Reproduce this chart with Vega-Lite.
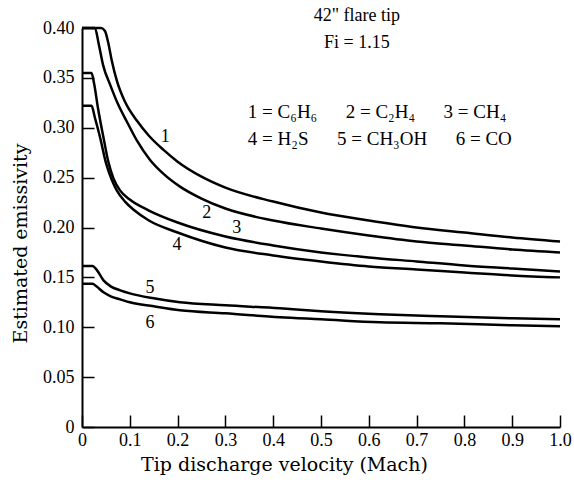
{
  "$schema": "https://vega.github.io/schema/vega-lite/v6.json",
  "width": 478,
  "height": 399,
  "autosize": {"type": "none"},
  "padding": {"left": 82, "top": 28, "right": 14, "bottom": 61},
  "background": "white",
  "config": {
    "view": {"stroke": null},
    "font": "Liberation Serif",
    "axis": {"grid": false, "domainColor": "black", "domainWidth": 2, "tickColor": "black", "tickWidth": 1.5, "labelColor": "black", "titleColor": "black", "labelFont": "Liberation Serif", "titleFont": "DejaVu Serif", "labelFontSize": 18, "titleFontSize": 19, "titleFontWeight": "normal"}
  },
  "datasets": {
    "curves": [
      {"curve": "1", "x": 0, "y": 0.400}, {"curve": "1", "x": 0.040, "y": 0.400}, {"curve": "1", "x": 0.048, "y": 0.397}, {"curve": "1", "x": 0.055, "y": 0.385}, {"curve": "1", "x": 0.062, "y": 0.368}, {"curve": "1", "x": 0.073, "y": 0.347}, {"curve": "1", "x": 0.090, "y": 0.326}, {"curve": "1", "x": 0.115, "y": 0.307}, {"curve": "1", "x": 0.140, "y": 0.292}, {"curve": "1", "x": 0.170, "y": 0.278}, {"curve": "1", "x": 0.20, "y": 0.266}, {"curve": "1", "x": 0.25, "y": 0.251}, {"curve": "1", "x": 0.30, "y": 0.240}, {"curve": "1", "x": 0.40, "y": 0.226}, {"curve": "1", "x": 0.50, "y": 0.215}, {"curve": "1", "x": 0.60, "y": 0.207}, {"curve": "1", "x": 0.70, "y": 0.200}, {"curve": "1", "x": 0.80, "y": 0.195}, {"curve": "1", "x": 0.90, "y": 0.190}, {"curve": "1", "x": 1.0, "y": 0.186},
      {"curve": "2", "x": 0, "y": 0.400}, {"curve": "2", "x": 0.027, "y": 0.400}, {"curve": "2", "x": 0.035, "y": 0.384}, {"curve": "2", "x": 0.044, "y": 0.363}, {"curve": "2", "x": 0.059, "y": 0.343}, {"curve": "2", "x": 0.075, "y": 0.324}, {"curve": "2", "x": 0.094, "y": 0.306}, {"curve": "2", "x": 0.115, "y": 0.287}, {"curve": "2", "x": 0.142, "y": 0.268}, {"curve": "2", "x": 0.170, "y": 0.254}, {"curve": "2", "x": 0.205, "y": 0.241}, {"curve": "2", "x": 0.25, "y": 0.229}, {"curve": "2", "x": 0.30, "y": 0.219}, {"curve": "2", "x": 0.40, "y": 0.207}, {"curve": "2", "x": 0.50, "y": 0.199}, {"curve": "2", "x": 0.60, "y": 0.192}, {"curve": "2", "x": 0.70, "y": 0.186}, {"curve": "2", "x": 0.80, "y": 0.182}, {"curve": "2", "x": 0.90, "y": 0.178}, {"curve": "2", "x": 1.0, "y": 0.175},
      {"curve": "3", "x": 0, "y": 0.355}, {"curve": "3", "x": 0.020, "y": 0.355}, {"curve": "3", "x": 0.025, "y": 0.345}, {"curve": "3", "x": 0.034, "y": 0.318}, {"curve": "3", "x": 0.045, "y": 0.290}, {"curve": "3", "x": 0.055, "y": 0.266}, {"curve": "3", "x": 0.066, "y": 0.249}, {"curve": "3", "x": 0.080, "y": 0.237}, {"curve": "3", "x": 0.10, "y": 0.228}, {"curve": "3", "x": 0.14, "y": 0.217}, {"curve": "3", "x": 0.20, "y": 0.205}, {"curve": "3", "x": 0.30, "y": 0.191}, {"curve": "3", "x": 0.40, "y": 0.182}, {"curve": "3", "x": 0.50, "y": 0.175}, {"curve": "3", "x": 0.60, "y": 0.170}, {"curve": "3", "x": 0.70, "y": 0.166}, {"curve": "3", "x": 0.80, "y": 0.162}, {"curve": "3", "x": 0.90, "y": 0.159}, {"curve": "3", "x": 1.0, "y": 0.156},
      {"curve": "4", "x": 0, "y": 0.322}, {"curve": "4", "x": 0.020, "y": 0.322}, {"curve": "4", "x": 0.027, "y": 0.310}, {"curve": "4", "x": 0.038, "y": 0.290}, {"curve": "4", "x": 0.050, "y": 0.265}, {"curve": "4", "x": 0.062, "y": 0.248}, {"curve": "4", "x": 0.073, "y": 0.237}, {"curve": "4", "x": 0.090, "y": 0.226}, {"curve": "4", "x": 0.11, "y": 0.217}, {"curve": "4", "x": 0.14, "y": 0.207}, {"curve": "4", "x": 0.20, "y": 0.195}, {"curve": "4", "x": 0.30, "y": 0.180}, {"curve": "4", "x": 0.40, "y": 0.172}, {"curve": "4", "x": 0.50, "y": 0.166}, {"curve": "4", "x": 0.60, "y": 0.161}, {"curve": "4", "x": 0.70, "y": 0.158}, {"curve": "4", "x": 0.80, "y": 0.155}, {"curve": "4", "x": 0.90, "y": 0.152}, {"curve": "4", "x": 1.0, "y": 0.150},
      {"curve": "5", "x": 0, "y": 0.1615}, {"curve": "5", "x": 0.022, "y": 0.1615}, {"curve": "5", "x": 0.030, "y": 0.158}, {"curve": "5", "x": 0.045, "y": 0.147}, {"curve": "5", "x": 0.060, "y": 0.141}, {"curve": "5", "x": 0.080, "y": 0.137}, {"curve": "5", "x": 0.10, "y": 0.134}, {"curve": "5", "x": 0.15, "y": 0.129}, {"curve": "5", "x": 0.205, "y": 0.125}, {"curve": "5", "x": 0.30, "y": 0.122}, {"curve": "5", "x": 0.414, "y": 0.119}, {"curve": "5", "x": 0.50, "y": 0.116}, {"curve": "5", "x": 0.623, "y": 0.113}, {"curve": "5", "x": 0.75, "y": 0.111}, {"curve": "5", "x": 0.90, "y": 0.109}, {"curve": "5", "x": 1.0, "y": 0.108},
      {"curve": "6", "x": 0, "y": 0.1435}, {"curve": "6", "x": 0.022, "y": 0.1435}, {"curve": "6", "x": 0.030, "y": 0.141}, {"curve": "6", "x": 0.045, "y": 0.135}, {"curve": "6", "x": 0.060, "y": 0.131}, {"curve": "6", "x": 0.080, "y": 0.128}, {"curve": "6", "x": 0.10, "y": 0.125}, {"curve": "6", "x": 0.15, "y": 0.121}, {"curve": "6", "x": 0.205, "y": 0.117}, {"curve": "6", "x": 0.30, "y": 0.114}, {"curve": "6", "x": 0.414, "y": 0.110}, {"curve": "6", "x": 0.50, "y": 0.108}, {"curve": "6", "x": 0.623, "y": 0.105}, {"curve": "6", "x": 0.75, "y": 0.104}, {"curve": "6", "x": 0.90, "y": 0.102}, {"curve": "6", "x": 1.0, "y": 0.101}
    ],
    "labels": [
      {"text": "1", "x": 0.174, "y": 0.291}, {"text": "2", "x": 0.261, "y": 0.2145}, {"text": "3", "x": 0.324, "y": 0.1995}, {"text": "4", "x": 0.199, "y": 0.1825}, {"text": "5", "x": 0.142, "y": 0.139}, {"text": "6", "x": 0.142, "y": 0.104}
    ],
    "titles": [
      {"text": "42\" flare tip", "x": 0.575, "y": 0.412},
      {"text": "Fi = 1.15", "x": 0.575, "y": 0.385}
    ],
    "notes": [
      {"text": "1 = C₆H₆\u2002\u2002\u20022 = C₂H₄\u2002\u2002\u20023 = CH₄", "x": 0.347, "y": 0.316},
      {"text": "4 = H₂S\u2002\u2002\u20025 = CH₃OH\u2002\u2002\u20026 = CO", "x": 0.347, "y": 0.289}
    ]
  },
  "layer": [
    {
      "data": {"name": "curves"},
      "mark": {"type": "line", "color": "black", "strokeWidth": 2.5, "interpolate": "monotone"},
      "encoding": {
        "x": {"field": "x", "type": "quantitative", "scale": {"domain": [0, 1]}, "axis": {"title": "Tip discharge velocity (Mach)", "values": [0, 0.1, 0.2, 0.3, 0.4, 0.5, 0.6, 0.7, 0.8, 0.9, 1.0], "labelExpr": "datum.value == 0 ? '0' : format(datum.value, '.1f')", "tickSize": -12, "labelPadding": 16, "titlePadding": 6, "titleX": 202, "titleAlign": "center", "labelFlush": false}},
        "y": {"field": "y", "type": "quantitative", "scale": {"domain": [0, 0.4]}, "axis": {"title": "Estimated emissivity", "values": [0, 0.05, 0.1, 0.15, 0.2, 0.25, 0.3, 0.35, 0.4], "labelExpr": "datum.value == 0 ? '0' : format(datum.value, '.2f')", "tickSize": -12, "labelPadding": 20, "titleX": -52, "titleY": 215, "titleAlign": "center", "labelFlush": false}},
        "detail": {"field": "curve"}
      }
    },
    {
      "data": {"name": "labels"},
      "mark": {"type": "text", "font": "Liberation Serif", "fontSize": 18, "color": "black"},
      "encoding": {
        "x": {"field": "x", "type": "quantitative"},
        "y": {"field": "y", "type": "quantitative"},
        "text": {"field": "text"}
      }
    },
    {
      "data": {"name": "titles"},
      "mark": {"type": "text", "font": "Liberation Serif", "fontSize": 18, "color": "black", "align": "center"},
      "encoding": {
        "x": {"field": "x", "type": "quantitative"},
        "y": {"field": "y", "type": "quantitative"},
        "text": {"field": "text"}
      }
    },
    {
      "data": {"name": "notes"},
      "mark": {"type": "text", "font": "Liberation Serif", "fontSize": 19, "color": "black", "align": "left"},
      "encoding": {
        "x": {"field": "x", "type": "quantitative"},
        "y": {"field": "y", "type": "quantitative"},
        "text": {"field": "text"}
      }
    }
  ]
}
